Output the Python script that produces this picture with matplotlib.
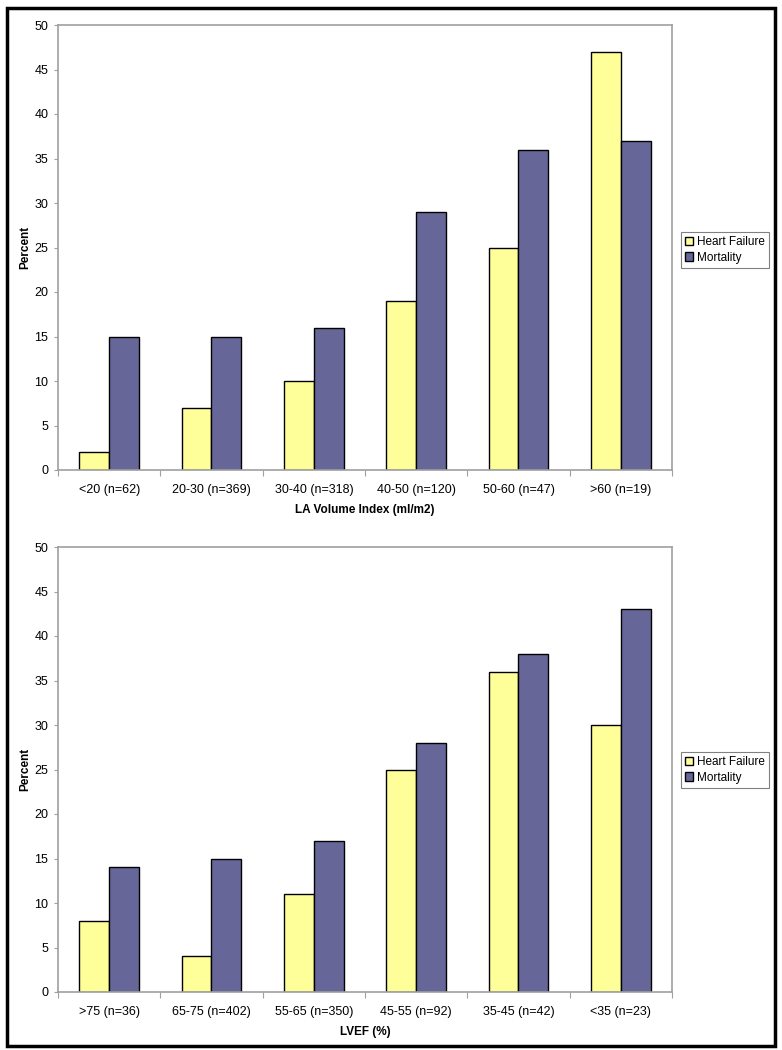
import numpy as np
import matplotlib.pyplot as plt
from matplotlib.patches import Rectangle

plt.rcParams['font.family'] = ['Liberation Sans', 'DejaVu Sans']

# Panel 1: LA volume index
la_cats = ['<20 (n=62)', '20-30 (n=369)', '30-40 (n=318)', '40-50 (n=120)',
           '50-60 (n=47)', '>60 (n=19)']
la_hf = [2, 7, 10, 19, 25, 47]
la_mort = [15, 15, 16, 29, 36, 37]

# Panel 2: LVEF
ef_cats = ['>75 (n=36)', '65-75 (n=402)', '55-65 (n=350)', '45-55 (n=92)',
           '35-45 (n=42)', '<35 (n=23)']
ef_hf = [8, 4, 11, 25, 36, 30]
ef_mort = [14, 15, 17, 28, 38, 43]

series_names = ['Heart Failure', 'Mortality']
yticks = [0, 5, 10, 15, 20, 25, 30, 35, 40, 45, 50]

YELLOW = '#FFFF99'
PURPLE = '#666699'
GREY = '#A0A0A0'

W, H = 782, 1050
fig = plt.figure(figsize=(W / 100, H / 100), dpi=100)


def panel(rect, cats, hf, mort, xlabel, legend_xy):
    ax = fig.add_axes(rect)
    x = np.arange(len(cats))
    bw = 0.293
    b1 = ax.bar(x - bw / 2, hf, bw, color=YELLOW, edgecolor='black', linewidth=1)
    b2 = ax.bar(x + bw / 2, mort, bw, color=PURPLE, edgecolor='black', linewidth=1)
    ax.set_xlim(-0.5, len(cats) - 0.5)
    ax.set_ylim(0, 50)
    ax.set_yticks(yticks)
    ax.set_yticklabels([str(t) for t in yticks])
    # category labels at centres, tick marks at boundaries
    ax.set_xticks(x)
    ax.set_xticklabels(cats)
    ax.set_xticks(np.arange(len(cats) + 1) - 0.5, minor=True)
    ax.tick_params(axis='x', which='major', length=0, pad=10, labelsize=9)
    ax.tick_params(axis='x', which='minor', length=4, color=GREY, width=0.8)
    ax.tick_params(axis='y', length=3, color=GREY, width=0.8, pad=4, labelsize=9)
    for s in ax.spines.values():
        s.set_color(GREY)
        s.set_linewidth(1.2)
    ax.set_xlabel(xlabel, fontweight='bold', fontsize=8.5, labelpad=6)
    ax.set_ylabel('Percent', fontweight='bold', fontsize=8.5, labelpad=2)
    leg = fig.legend([b1, b2], series_names, loc='upper left',
                     bbox_to_anchor=legend_xy, bbox_transform=fig.transFigure,
                     fontsize=8.5, frameon=True, fancybox=False,
                     handlelength=0.7, handleheight=0.7, handletextpad=0.3,
                     borderpad=0.35, labelspacing=0.3, borderaxespad=0)
    leg.get_frame().set_edgecolor('#606060')
    leg.get_frame().set_linewidth(0.8)
    return ax


panel([58 / W, 1 - 470 / H, 614 / W, 445 / H], la_cats, la_hf, la_mort,
      'LA Volume Index (ml/m2)', (681 / W, 1 - 232 / H))
panel([58 / W, 1 - 992 / H, 614 / W, 445 / H], ef_cats, ef_hf, ef_mort,
      'LVEF (%)', (681 / W, 1 - 752 / H))

# outer border
fig.patches.append(Rectangle((7 / W, 1 - 1046 / H), 768 / W, 1038 / H,
                             transform=fig.transFigure, fill=False,
                             edgecolor='black', linewidth=2.5))

fig.savefig('out.png', dpi=100)
